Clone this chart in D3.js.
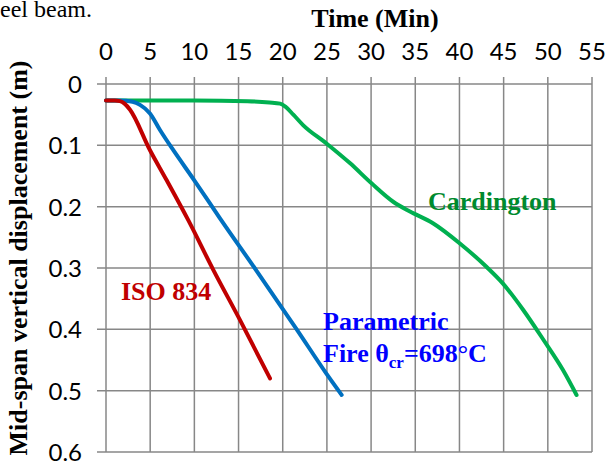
<!DOCTYPE html>
<html>
<head>
<meta charset="utf-8">
<script src="https://cdn.jsdelivr.net/npm/d3@7"></script>
<style>
  body { margin: 0; background: #fff; }
  svg { display: block; }
  .tick-label { font-family: Lato, "Open Sans", sans-serif; font-size: 24px; fill: #000; }
  .serif { font-family: "Liberation Serif", "Times New Roman", serif; }
</style>
</head>
<body>
<svg id="chart" width="606" height="472"></svg>
<script>
// time in minutes, displacement in metres
const isoTime = [0, 1, 1.58, 2.1, 2.72, 4.98, 6.87, 9.31, 12.14, 15.17, 18.56];
const isoDisp = [0.027, 0.027, 0.028, 0.032, 0.042, 0.108, 0.157, 0.222, 0.303, 0.385, 0.48];

const paramTime = [0, 1.58, 3.0, 3.85, 4.98, 6.11, 7.62, 9.99, 12.9, 17.06, 21.58, 24.98, 26.67];
const paramDisp = [0.027, 0.027, 0.029, 0.034, 0.048, 0.075, 0.108, 0.157, 0.219, 0.305, 0.4, 0.473, 0.507];

const cardTime = [0, 10, 16, 18.5, 19.7, 20.3, 21.2, 22.3, 24.95, 27.6, 30.05, 32.5, 34.4, 37.0, 40.05, 43.05, 44.9, 47.2, 49.5, 51.7, 53.25];
const cardDisp = [0.027, 0.027, 0.028, 0.03, 0.032, 0.037, 0.05, 0.067, 0.097, 0.129, 0.162, 0.192, 0.208, 0.227, 0.26, 0.298, 0.325, 0.368, 0.417, 0.466, 0.507];

const xTicks = [0, 5, 10, 15, 20, 25, 30, 35, 40, 45, 50, 55];
const yTicks = [0, 0.1, 0.2, 0.3, 0.4, 0.5, 0.6];

const svg = d3.select("#chart");
const x = d3.scaleLinear().domain([0, 55]).range([106, 592]);
const y = d3.scaleLinear().domain([0, 0.6]).range([84, 452]);
const grid = "#878787";

// caption fragment cut off at the top
svg.append("text").attr("class", "serif")
  .attr("x", 0).attr("y", 17).attr("font-size", 24)
  .text("eel beam.");

// gridlines
svg.append("g").selectAll("line").data(xTicks).join("line")
  .attr("x1", d => x(d)).attr("x2", d => x(d))
  .attr("y1", 77).attr("y2", y(0.6))
  .attr("stroke", grid).attr("stroke-width", 1.5);
svg.append("g").selectAll("line").data(yTicks).join("line")
  .attr("x1", 97).attr("x2", x(55))
  .attr("y1", d => y(d)).attr("y2", d => y(d))
  .attr("stroke", grid).attr("stroke-width", 1.5);

// tick labels
svg.append("g").selectAll("text").data(xTicks).join("text")
  .attr("class", "tick-label")
  .attr("x", d => x(d)).attr("y", 60)
  .attr("text-anchor", "middle")
  .text(d => d);
svg.append("g").selectAll("text").data(yTicks).join("text")
  .attr("class", "tick-label")
  .attr("x", 82).attr("y", d => y(d) + 9)
  .attr("text-anchor", "end")
  .text(d => d);

// axis titles
svg.append("text").attr("class", "serif")
  .attr("x", 375).attr("y", 27)
  .attr("text-anchor", "middle")
  .attr("font-size", 26).attr("font-weight", "bold")
  .text("Time (Min)");
svg.append("text").attr("class", "serif")
  .attr("transform", "translate(27,258) rotate(-90)")
  .attr("text-anchor", "middle")
  .attr("font-size", 26).attr("font-weight", "bold")
  .text("Mid-span vertical displacement (m)");

// curves
const line = d3.line().x(d => x(d[0])).y(d => y(d[1])).curve(d3.curveMonotoneX);
const series = [
  { t: cardTime, v: cardDisp, color: "#00B050" },
  { t: paramTime, v: paramDisp, color: "#0070C0" },
  { t: isoTime, v: isoDisp, color: "#C00000" }
];
series.forEach(s => {
  svg.append("path")
    .datum(s.t.map((t, i) => [t, s.v[i]]))
    .attr("fill", "none")
    .attr("stroke", s.color)
    .attr("stroke-width", 4)
    .attr("stroke-linecap", "round")
    .attr("stroke-linejoin", "round")
    .attr("d", line);
});

// annotations
svg.append("text").attr("class", "serif")
  .attr("x", 121).attr("y", 300)
  .attr("font-size", 26).attr("font-weight", "bold").attr("fill", "#C00000")
  .text("ISO 834");
svg.append("text").attr("class", "serif")
  .attr("x", 428).attr("y", 210)
  .attr("font-size", 26).attr("font-weight", "bold").attr("fill", "#008A2E")
  .text("Cardington");
const pf = svg.append("text").attr("class", "serif")
  .attr("font-size", 26).attr("font-weight", "bold").attr("fill", "#0000FF");
pf.append("tspan").attr("x", 323).attr("y", 330).text("Parametric");
pf.append("tspan").attr("x", 323).attr("y", 362).text("Fire θ");
pf.append("tspan").attr("dy", 6).attr("font-size", 17).text("cr");
pf.append("tspan").attr("dy", -6).text("=698°C");
</script>
</body>
</html>
